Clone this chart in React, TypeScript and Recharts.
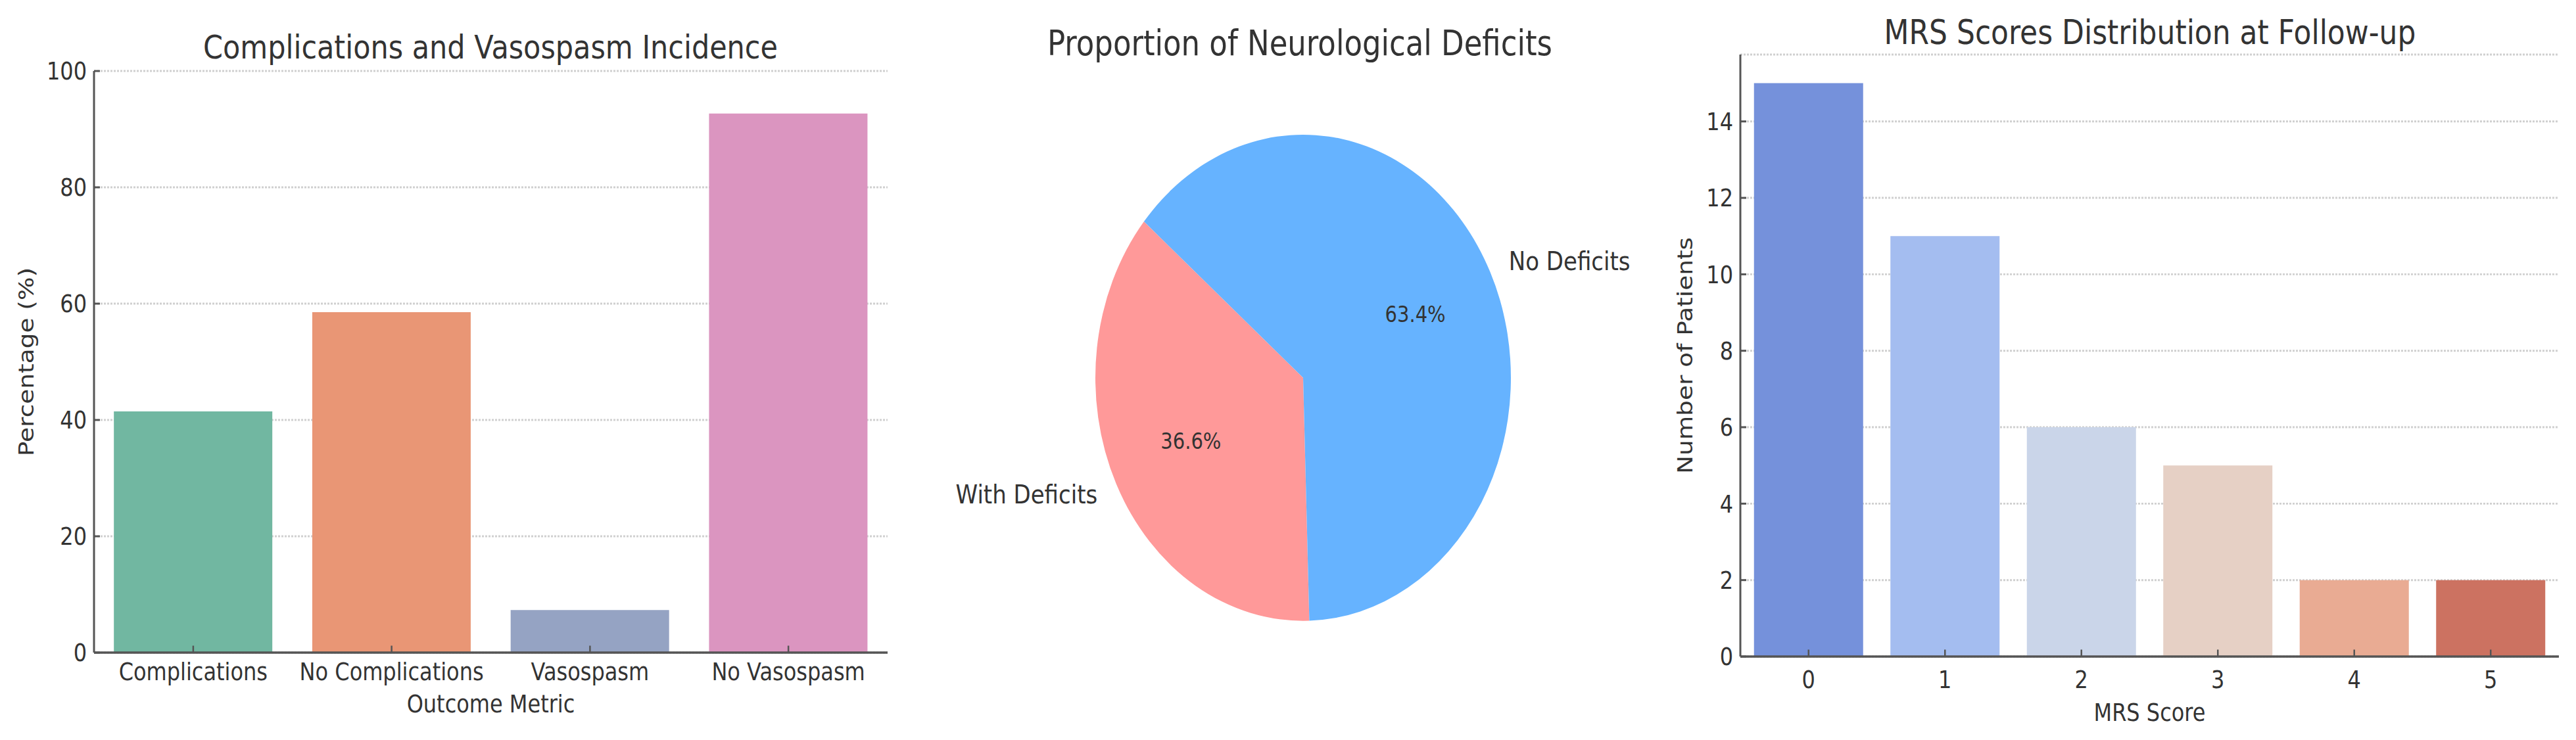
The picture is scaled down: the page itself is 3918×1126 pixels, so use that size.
import React from "react";
import { BarChart, Bar, XAxis, YAxis, CartesianGrid, Cell, PieChart, Pie } from "recharts";

// panel 1: complications / vasospasm (%)
const outcomeNames = ["Complications", "No Complications", "Vasospasm", "No Vasospasm"];
const outcomePercents = [41.46, 58.54, 7.32, 92.68];
const outcomeColors = ["#71b7a1", "#e99675", "#95a3c3", "#db95c0"];
const percentTicks = [0, 20, 40, 60, 80, 100];

// panel 2: neurological deficits (patients)
const deficitNames = ["With Deficits", "No Deficits"];
const deficitCounts = [15, 26];
const deficitColors = ["#ff9999", "#66b3ff"];

// panel 3: mRS at follow-up
const mrsScores = ["0", "1", "2", "3", "4", "5"];
const mrsCounts = [15, 11, 6, 5, 2, 2];
const mrsColors = ["#7591db", "#a4bdf0", "#cad5e9", "#e6d0c5", "#e9ab93", "#cc7261"];
const patientTicks = [0, 2, 4, 6, 8, 10, 12, 14];

// the reference is stretched vertically, so draw at a lower height and scale
const STRETCH = 1.1705;
const W = 3918;
const H = 1126 / STRETCH;
const FONT = "'DejaVu Sans', sans-serif";
const INK = "#333333";
const SPINE = "#555555";

const outcomeData = outcomeNames.map((name, i) => ({ name, value: outcomePercents[i] }));
const deficitData = deficitNames.map((name, i) => ({ name, value: deficitCounts[i] }));
const mrsData = mrsScores.map((name, i) => ({ name, value: mrsCounts[i] }));

const makeBottomTick = (gap: number) => (props: any) => {
  const { x, y, payload } = props;
  const axisY = y - gap;
  return (
    <g>
      <line x1={x} x2={x} y1={axisY} y2={axisY - 9} stroke={SPINE} strokeWidth={2.5} />
      <text x={x} y={y} dy="0.71em" textAnchor="middle" fontSize={32} fill={INK}>
        {payload.value}
      </text>
    </g>
  );
};

const makeLeftTick = (gap: number) => (props: any) => {
  const { x, y, payload } = props;
  const axisX = x + gap;
  return (
    <g>
      <line x1={axisX} x2={axisX + 9} y1={y} y2={y} stroke={SPINE} strokeWidth={2.5} />
      <text x={x} y={y} dy="0.355em" textAnchor="end" fontSize={32} fill={INK}>
        {payload.value}
      </text>
    </g>
  );
};

const renderPieLabel = (props: any) => {
  const { cx, cy, midAngle, outerRadius, percent, name } = props;
  const rad = (-midAngle * Math.PI) / 180;
  const ox = cx + outerRadius * 1.1 * Math.cos(rad);
  const oy = cy + outerRadius * 1.1 * Math.sin(rad);
  const ix = cx + outerRadius * 0.6 * Math.cos(rad);
  const iy = cy + outerRadius * 0.6 * Math.sin(rad);
  return (
    <g>
      <text x={ox} y={oy} textAnchor={ox > cx ? "start" : "end"} dominantBaseline="central" fontSize={34} fill={INK}>
        {name}
      </text>
      <text x={ix} y={iy} textAnchor="middle" dominantBaseline="central" fontSize={29} fill={INK}>
        {(percent * 100).toFixed(1)}%
      </text>
    </g>
  );
};

const grid = { vertical: false, stroke: "#c4c4c4", strokeDasharray: "3 2", strokeWidth: 2.5, strokeOpacity: 0.8 };

export default function App() {
  return (
    <div
      style={{
        position: "absolute",
        left: 0,
        top: 0,
        width: W,
        height: H,
        background: "#fff",
        fontFamily: FONT,
        transform: `scaleY(${STRETCH})`,
        transformOrigin: "0 0",
      }}
    >
      <div style={{ position: "absolute", left: 0, top: 0 }}>
        <BarChart width={1400} height={H} data={outcomeData} margin={{ top: 92.3, right: 50, bottom: 13.6, left: 0 }} barCategoryGap="10%">
          <XAxis
            dataKey="name"
            height={100}
            tickLine={false}
            tickSize={0}
            tickMargin={13}
            interval={0}
            tick={makeBottomTick(13)}
            axisLine={{ stroke: SPINE, strokeWidth: 3 }}
            label={{ value: "Outcome Metric", position: "insideBottom", offset: 22.4, fill: INK, fontSize: 32 }}
          />
          <YAxis
            width={143}
            domain={[0, 100]}
            ticks={percentTicks}
            interval={0}
            tickLine={false}
            tickSize={0}
            tickMargin={11}
            tick={makeLeftTick(11)}
            axisLine={{ stroke: SPINE, strokeWidth: 3 }}
            label={{ value: "Percentage (%)", angle: -90, position: "insideLeft", offset: 40, fill: INK, fontSize: 32, style: { textAnchor: "middle" } }}
          />
          <Bar dataKey="value" isAnimationActive={false}>
            {outcomeData.map((d, i) => (
              <Cell key={d.name} fill={outcomeColors[i]} />
            ))}
          </Bar>
          <CartesianGrid {...grid} />
        </BarChart>
      </div>

      <div style={{ position: "absolute", left: 1377, top: 0 }}>
        <PieChart width={1200} height={H}>
          <Pie
            data={deficitData}
            dataKey="value"
            nameKey="name"
            cx={600}
            cy={486.1}
            outerRadius={316}
            startAngle={140}
            endAngle={500}
            stroke="none"
            label={renderPieLabel}
            labelLine={false}
            isAnimationActive={false}
          >
            {deficitData.map((d, i) => (
              <Cell key={d.name} fill={deficitColors[i]} />
            ))}
          </Pie>
        </PieChart>
      </div>

      <div style={{ position: "absolute", left: 2500, top: 0 }}>
        <BarChart width={1418} height={H} data={mrsData} margin={{ top: 70.9, right: 26, bottom: 8.5, left: 0 }} barCategoryGap="10%">
          <XAxis
            dataKey="name"
            height={100}
            tickLine={false}
            tickSize={0}
            tickMargin={18}
            interval={0}
            tick={makeBottomTick(18)}
            axisLine={{ stroke: SPINE, strokeWidth: 3 }}
            label={{ value: "MRS Score", position: "insideBottom", offset: 16.5, fill: INK, fontSize: 32 }}
          />
          <YAxis
            width={147}
            domain={[0, 15.75]}
            ticks={patientTicks}
            interval={0}
            tickLine={false}
            tickSize={0}
            tickMargin={11}
            tick={makeLeftTick(11)}
            axisLine={{ stroke: SPINE, strokeWidth: 3 }}
            label={{ value: "Number of Patients", angle: -90, position: "insideLeft", offset: 63, fill: INK, fontSize: 32, style: { textAnchor: "middle" } }}
          />
          <Bar dataKey="value" isAnimationActive={false}>
            {mrsData.map((d, i) => (
              <Cell key={d.name} fill={mrsColors[i]} />
            ))}
          </Bar>
          <CartesianGrid {...grid} />
        </BarChart>
      </div>

      <svg width={W} height={H} style={{ position: "absolute", left: 0, top: 0, pointerEvents: "none" }}>
        <text x={746} y={76} textAnchor="middle" fontSize={43} fill={INK}>
          Complications and Vasospasm Incidence
        </text>
        <text x={1977} y={71.5} textAnchor="middle" fontSize={45} fill={INK}>
          Proportion of Neurological Deficits
        </text>
        <text x={3270} y={57.2} textAnchor="middle" fontSize={44} fill={INK}>
          MRS Scores Distribution at Follow-up
        </text>
      </svg>
    </div>
  );
}
